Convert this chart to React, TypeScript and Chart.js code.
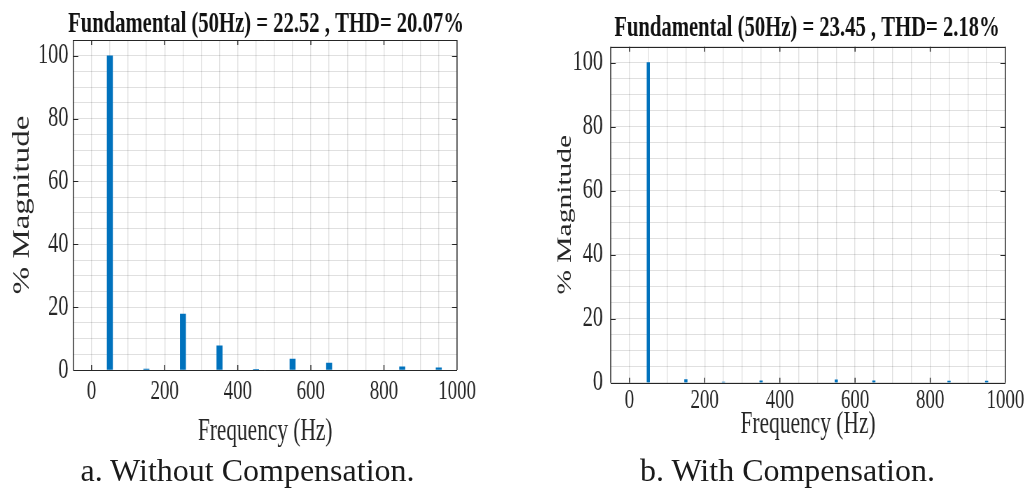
import React, { useEffect, useRef } from 'react';
import { Chart, registerables } from 'chart.js';

Chart.register(...registerables);

// ---------- data ----------
const frequenciesA = [50, 150, 250, 350, 450, 550, 650, 850, 950];
const magnitudesA = [100, 0.3, 17.8, 7.7, 0.2, 3.5, 2.2, 1.0, 0.7];
const frequenciesB = [50, 150, 250, 350, 550, 650, 850, 950];
const magnitudesB = [100, 1.0, 0.2, 0.6, 0.9, 0.6, 0.5, 0.5];
const titleA = 'Fundamental (50Hz) = 22.52 , THD= 20.07%';
const titleB = 'Fundamental (50Hz) = 23.45 , THD= 2.18%';
const xAxisLabel = 'Frequency (Hz)';
const yAxisLabel = '% Magnitude';
const xTickLabels = [0, 200, 400, 600, 800, 1000];
const yTickLabels = [0, 20, 40, 60, 80, 100];
const captionA = 'a. Without Compensation.';
const captionB = 'b. With Compensation.';

// ---------- styles / layout ----------
const SX = 0.7; // horizontal squeeze of the drawn figure
const FONT = "'Liberation Serif', 'Times New Roman', Times, serif";
const INK = '#262626';
const GRID = 'rgba(0,0,0,0.12)';
const BAR = '#0072BD';

type Layout = {
  left: number; w: number; h: number;
  yAxisW: number; rightW: number; xAxisH: number;
  titleSize: number; titleTop: number; titleBottom: number;
  yTickSize: number; yTickPad: number; xTickSize: number; xTickPad: number;
  xTitleSize: number; xTitleBottom: number; yTitleSize: number; yTitleTop: number;
  barW: number;
};

const layoutA: Layout = {
  left: 0, w: 760, h: 460,
  yAxisW: 104.7, rightW: 107.1, xAxisH: 90,
  titleSize: 29.5, titleTop: 9.25, titleBottom: 1.25,
  yTickSize: 29, yTickPad: 7, xTickSize: 27, xTickPad: 8.5,
  xTitleSize: 30.5, xTitleBottom: 12.5, yTitleSize: 33, yTitleTop: 15.6,
  barW: 7.9,
};

const layoutB: Layout = {
  left: 540, w: 763, h: 460,
  yAxisW: 101, rightW: 98, xAxisH: 77.3,
  titleSize: 29.5, titleTop: 13.25, titleBottom: 3.95,
  yTickSize: 29, yTickPad: 11, xTickSize: 27, xTickPad: 4.4,
  xTitleSize: 30.6, xTitleBottom: 19.7, yTitleSize: 29.5, yTitleTop: 21.65,
  barW: 3.9,
};

const framePlugin = {
  id: 'matlabFrame',
  afterDraw(chart: any) {
    const { ctx, chartArea: a, scales } = chart;
    const xs = scales.x;
    const ys = scales.y;
    ctx.save();
    ctx.strokeStyle = INK;
    // horizontal edges
    ctx.lineWidth = 1;
    ctx.beginPath();
    ctx.moveTo(a.left, Math.round(a.top) + 0.5);
    ctx.lineTo(a.right, Math.round(a.top) + 0.5);
    ctx.moveTo(a.left, Math.round(a.bottom) + 0.5);
    ctx.lineTo(a.right, Math.round(a.bottom) + 0.5);
    ctx.stroke();
    // vertical edges
    ctx.lineWidth = 1 / SX;
    ctx.beginPath();
    ctx.moveTo(a.left, a.top);
    ctx.lineTo(a.left, a.bottom);
    ctx.moveTo(a.right, a.top);
    ctx.lineTo(a.right, a.bottom);
    // x major ticks (inward)
    for (const v of xTickLabels) {
      const px = xs.getPixelForValue(v);
      ctx.moveTo(px, a.bottom);
      ctx.lineTo(px, a.bottom - 5);
      ctx.moveTo(px, a.top);
      ctx.lineTo(px, a.top + 5);
    }
    ctx.stroke();
    ctx.lineWidth = 1;
    ctx.beginPath();
    for (const v of yTickLabels) {
      const py = Math.round(ys.getPixelForValue(v)) + 0.5;
      ctx.moveTo(a.left, py);
      ctx.lineTo(a.left + 5 / SX, py);
      ctx.moveTo(a.right, py);
      ctx.lineTo(a.right - 5 / SX, py);
    }
    ctx.stroke();
    ctx.restore();
  },
};

function SpectrumChart({ freqs, mags, title, L }: { freqs: number[]; mags: number[]; title: string; L: Layout }) {
  const ref = useRef<HTMLCanvasElement>(null);

  useEffect(() => {
    const canvas = ref.current;
    if (!canvas) return;
    const chart = new Chart(canvas, {
      type: 'bar',
      data: {
        datasets: [
          {
            data: freqs.map((f, i) => ({ x: f, y: mags[i] })),
            backgroundColor: BAR,
            borderWidth: 0,
            barThickness: L.barW,
            grouped: false,
          } as any,
        ],
      },
      options: {
        animation: false,
        responsive: false,
        devicePixelRatio: 1,
        events: [],
        layout: { padding: 0 },
        plugins: {
          legend: { display: false },
          tooltip: { enabled: false },
          title: {
            display: true,
            text: title,
            color: '#111',
            font: { family: FONT, size: L.titleSize, weight: 'bold', lineHeight: 1 },
            padding: { top: L.titleTop, bottom: L.titleBottom },
          },
        },
        scales: {
          x: {
            type: 'linear',
            min: -50,
            max: 1000,
            offset: false,
            grid: { offset: false, color: GRID, lineWidth: 1 / SX, drawTicks: false },
            border: { display: false },
            ticks: {
              stepSize: 50,
              autoSkip: false,
              maxRotation: 0,
              minRotation: 0,
              padding: L.xTickPad,
              color: INK,
              font: { family: FONT, size: L.xTickSize, lineHeight: 1 },
              callback: (v: any) => (xTickLabels.includes(Number(v)) ? String(v) : ''),
            },
            title: {
              display: true,
              text: xAxisLabel,
              color: INK,
              font: { family: FONT, size: L.xTitleSize, lineHeight: 1 },
              padding: { top: 0, bottom: L.xTitleBottom },
            },
            afterFit: (s: any) => {
              s.height = L.xAxisH;
            },
          },
          y: {
            type: 'linear',
            position: 'left',
            min: 0,
            max: 105,
            grid: { color: GRID, lineWidth: 1, drawTicks: false },
            border: { display: false },
            ticks: {
              stepSize: 5,
              autoSkip: false,
              padding: L.yTickPad,
              color: INK,
              font: { family: FONT, size: L.yTickSize, lineHeight: 1 },
              callback: (v: any) => (yTickLabels.includes(Number(v)) ? String(v) : ''),
            },
            title: {
              display: true,
              text: yAxisLabel,
              color: INK,
              font: { family: FONT, size: L.yTitleSize, lineHeight: 1 },
              padding: { top: L.yTitleTop, bottom: 0 },
            },
            afterFit: (s: any) => {
              s.width = L.yAxisW;
            },
          },
          yRight: {
            type: 'linear',
            position: 'right',
            min: 0,
            max: 105,
            grid: { display: false, drawTicks: false },
            border: { display: false },
            ticks: { display: false },
            afterFit: (s: any) => {
              s.width = L.rightW;
            },
          },
        },
      } as any,
      plugins: [framePlugin],
    });
    return () => chart.destroy();
  }, []);

  return (
    <canvas
      ref={ref}
      width={L.w}
      height={L.h}
      style={{ position: 'absolute', left: L.left, top: 0, width: L.w * SX, height: L.h }}
    />
  );
}

const captionStyle: React.CSSProperties = {
  position: 'absolute',
  top: 454,
  width: 420,
  textAlign: 'center',
  fontFamily: FONT,
  fontSize: 32,
  lineHeight: '32px',
  color: '#1a1a1a',
  whiteSpace: 'nowrap',
};

export default function App() {
  return (
    <div
      style={{
        position: 'fixed',
        left: 0,
        top: 0,
        width: 1027,
        height: 496,
        overflow: 'hidden',
        background: '#ffffff',
      }}
    >
      <SpectrumChart freqs={frequenciesA} mags={magnitudesA} title={titleA} L={layoutA} />
      <SpectrumChart freqs={frequenciesB} mags={magnitudesB} title={titleB} L={layoutB} />
      <div style={{ ...captionStyle, left: 247.5 - 210 }}>{captionA}</div>
      <div style={{ ...captionStyle, left: 787.5 - 210 }}>{captionB}</div>
    </div>
  );
}
